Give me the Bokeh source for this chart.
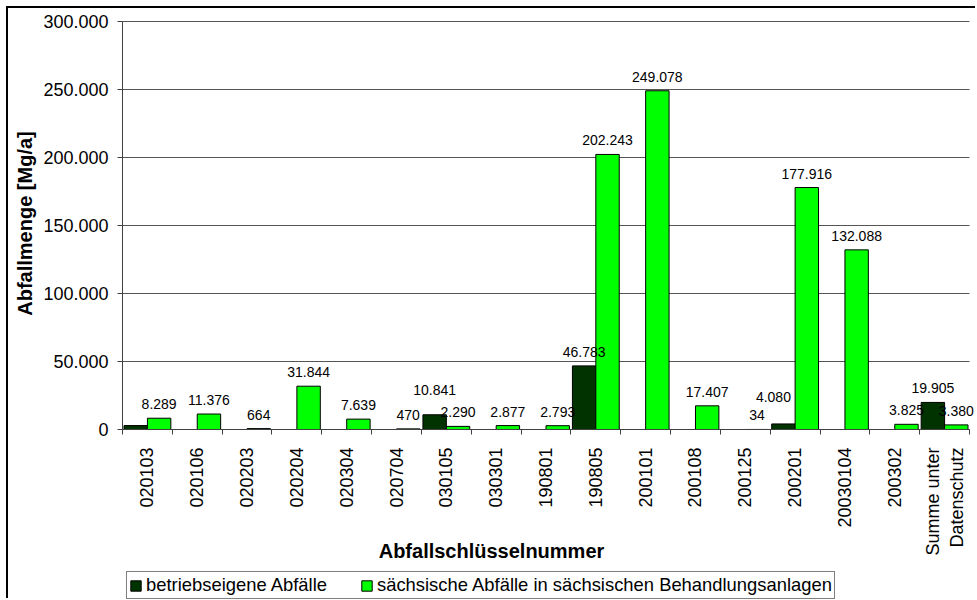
from math import pi
from bokeh.plotting import figure
from bokeh.core.properties import value
from bokeh.models import (Range1d, FixedTicker, SingleIntervalTicker, CustomJSTickFormatter,
                          LabelSet, Label, Legend, LegendItem, ColumnDataSource)
from bokeh.transform import dodge
from bokeh.embed import file_html
from bokeh.resources import INLINE

# ---- data ----
categories = ["020103", "020106", "020203", "020204", "020304", "020704", "030105",
              "030301", "190801", "190805", "200101", "200108", "200125", "200201",
              "20030104", "200302", "Summe unter\nDatenschutz"]
betriebseigene = [2900, 0, 0, 0, 0, 0, 10841, 0, 0, 46783, 0, 0, 0, 4080, 0, 0, 19905]
saechsische = [8289, 11376, 664, 31844, 7639, 470, 2290, 2877, 2793, 202243, 249078,
               17407, 34, 177916, 132088, 3825, 3380]
series_names = ["betriebseigene Abfälle",
                "sächsische Abfälle in sächsischen Behandlungsanlagen"]
hidden_dark_labels = ["020103"]
y_ticks_step = 50000
y_max = 300000
x_title = "Abfallschlüsselnummer"
y_title = "Abfallmenge [Mg/a]"

# label nudges (style: Excel moved overlapping labels)
dark_nudge_x = {"200201": -10}
dark_nudge_y = {"030105": 11, "200201": 13}

DARK = "#003300"
GREEN = "#00FF00"
FONT = "Liberation Sans"
AXIS = "#404040"

n = len(categories)
slot = [i + 0.5 for i in range(n)]  # category slot centres on the numeric scale

# ---- layout (page pixels); the frame fills the whole canvas ----
CANVAS_X, CANVAS_Y = 8, 8
W, H = 977 - CANVAS_X, 600 - CANVAS_Y
PLOT_L, PLOT_R = 122, 969          # x extent of the value axis area
ZERO_Y, TOP_Y = 429, 21            # y of value 0 and of y_max
k = (ZERO_Y - TOP_Y) / y_max        # px per unit
y_lo = -(600 - ZERO_Y) / k
y_hi = y_max + (TOP_Y - CANVAS_Y) / k
cat_px = (PLOT_R - PLOT_L) / n
x_lo = -(PLOT_L - CANVAS_X) / cat_px
x_hi = n + (977 - PLOT_R) / cat_px


def de(v):
    return f"{v:,}".replace(",", ".")


src = ColumnDataSource(dict(slot=slot, dark=betriebseigene, green=saechsische))

p = figure(x_range=Range1d(x_lo, x_hi), y_range=Range1d(y_lo, y_hi),
           width=W, height=H, output_backend="svg", toolbar_location=None,
           min_border_left=0, min_border_right=0, min_border_top=0, min_border_bottom=0,
           styles={"margin-left": "6px", "margin-top": "6px",
                   "border-top": "2px solid black", "border-left": "2px solid black"})
p.background_fill_color = "white"
p.border_fill_color = "white"
p.outline_line_color = None
p.xgrid.visible = False
p.ygrid.grid_line_color = "#555555"
p.ygrid.grid_line_width = 1
p.ygrid.bounds = (0, y_max)
p.ygrid.cross_bounds = (0, n)

# y axis at x = 0
ya = p.yaxis[0]
ya.fixed_location = 0
ya.bounds = (0, y_max)
ya.ticker = SingleIntervalTicker(interval=y_ticks_step, num_minor_ticks=0)
ya.formatter = CustomJSTickFormatter(
    code="return Math.round(tick).toString().replace(/\\B(?=(\\d{3})+(?!\\d))/g, '.');")
ya.major_tick_out = 5
ya.major_tick_in = 0
ya.minor_tick_line_color = None
ya.axis_line_color = AXIS
ya.major_tick_line_color = AXIS
ya.major_label_text_font = FONT
ya.major_label_text_font_size = "18px"
ya.major_label_text_color = "black"
ya.major_label_standoff = 9

# x axis at value 0: labels at slot centres, tick marks at slot boundaries
xa = p.xaxis[0]
xa.fixed_location = 0
xa.bounds = (0, n)
xa.ticker = FixedTicker(ticks=slot, minor_ticks=list(range(n + 1)))
xa.formatter = CustomJSTickFormatter(args=dict(labels=categories),
                                     code="return labels[Math.floor(tick)];")
xa.major_tick_line_color = None
xa.minor_tick_line_color = AXIS
xa.minor_tick_out = 5
xa.minor_tick_in = 0
xa.axis_line_color = AXIS
xa.major_label_orientation = pi / 2
xa.major_label_text_font = FONT
xa.major_label_text_font_size = "18px"
xa.major_label_text_color = "black"
xa.major_label_standoff = 12

# bars
r_dark = p.vbar(x=dodge("slot", -0.235), top="dark", width=0.47,
                source=src, fill_color=DARK, line_color="black", line_width=1)
r_green = p.vbar(x=dodge("slot", 0.235), top="green", width=0.47,
                 source=src, fill_color=GREEN, line_color="black", line_width=1)

# value labels
dl = dict(slot=[], val=[], txt=[], dx=[], dy=[])
for s, c, v in zip(slot, categories, betriebseigene):
    if v and c not in hidden_dark_labels:
        dl["slot"].append(s); dl["val"].append(v); dl["txt"].append(de(v))
        dl["dx"].append(dark_nudge_x.get(c, 0)); dl["dy"].append(14 + dark_nudge_y.get(c, 0))
gl = dict(slot=[], val=[], txt=[], dx=[], dy=[])
for s, c, v in zip(slot, categories, saechsische):
    if v:
        gl["slot"].append(s); gl["val"].append(v); gl["txt"].append(de(v))
        gl["dx"].append(0); gl["dy"].append(14)

for d, off in ((dl, -0.235), (gl, 0.235)):
    ls = LabelSet(x=dodge("slot", off), y="val", text="txt",
                  x_offset="dx", y_offset="dy", source=ColumnDataSource(d),
                  text_font=value(FONT), text_font_size=value("14px"), text_color="black",
                  text_align="center", text_baseline="middle")
    p.add_layout(ls)

# axis titles (screen units from the frame's bottom-left)
p.add_layout(Label(x=491 - CANVAS_X, y=600 - 550, x_units="screen", y_units="screen",
                   text=x_title, text_font=FONT, text_font_size="20px",
                   text_font_style="bold", text_color="black",
                   text_align="center", text_baseline="middle"))
p.add_layout(Label(x=24 - CANVAS_X, y=600 - 223, x_units="screen", y_units="screen",
                   angle=pi / 2, text=y_title, text_font=FONT, text_font_size="20px",
                   text_font_style="bold", text_color="black",
                   text_align="center", text_baseline="middle"))

# legend
legend = Legend(items=[LegendItem(label=series_names[0], renderers=[r_dark]),
                       LegendItem(label=series_names[1], renderers=[r_green])],
                orientation="horizontal", location=(126 - CANVAS_X, 1),
                label_text_font=FONT, label_text_font_size="18.4px", label_text_color="black",
                glyph_width=13, glyph_height=13, label_standoff=4, spacing=33,
                padding=2, margin=0, border_line_color="black", border_line_width=1,
                background_fill_color="white", background_fill_alpha=1)
p.add_layout(legend, "center")

open("out.html", "w").write(file_html(p, INLINE))
